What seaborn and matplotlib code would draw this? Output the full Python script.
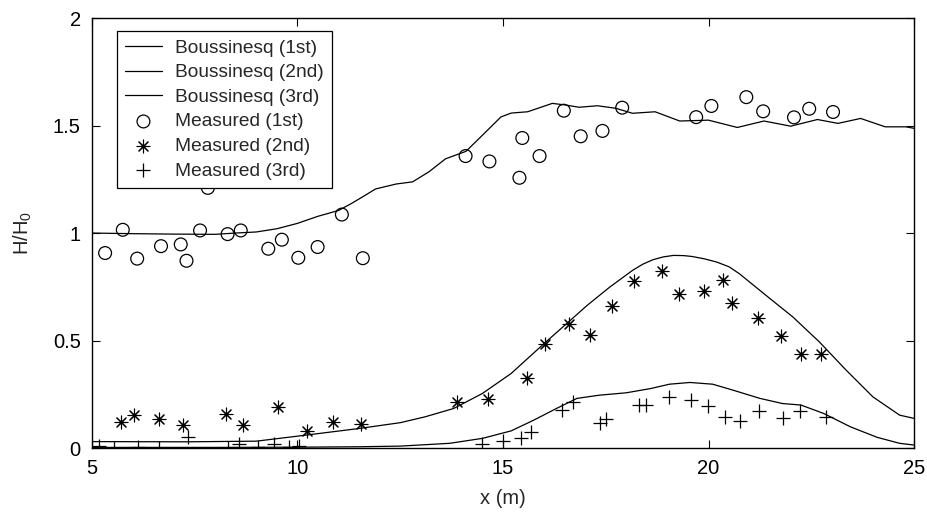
"""
Wave height along the channel: Boussinesq model vs. measurements.
"""
import matplotlib
matplotlib.use("Agg")
import matplotlib.pyplot as plt
import seaborn as sns
from matplotlib.ticker import FuncFormatter

# Boussinesq model, harmonic amplitudes
bous1_x = [5, 6, 7, 8, 8.5, 9, 9.5, 10, 10.5, 11, 11.3, 11.6, 11.9, 12.4, 12.8,
           13.2, 13.6, 14.1, 14.5, 14.95, 15.2, 15.6, 16.2, 16.5, 16.85, 17.3,
           17.75, 18.15, 18.7, 19.3, 20.0, 20.7, 21.35, 22.0, 22.65, 23.15,
           23.7, 24.3, 24.8, 25]
bous1_y = [1.0, 0.997, 0.995, 0.994, 1.0, 1.005, 1.02, 1.045, 1.078, 1.105,
           1.136, 1.17, 1.205, 1.228, 1.238, 1.285, 1.345, 1.38, 1.455, 1.54,
           1.558, 1.564, 1.603, 1.596, 1.585, 1.592, 1.58, 1.557, 1.564, 1.521,
           1.525, 1.491, 1.521, 1.497, 1.528, 1.51, 1.533, 1.494, 1.494, 1.487]

bous2_x = [5, 7.3, 9.0, 10.2, 11.5, 12.5, 13.1, 13.8, 14.5, 15.2, 16.0, 16.55,
           17.05, 17.6, 18.15, 18.4, 18.65, 18.9, 19.15, 19.4, 19.6, 19.9, 20.2,
           20.5, 20.75, 21.4, 22.05, 22.7, 23.35, 24.0, 24.65, 25.0]
bous2_y = [0.03, 0.029, 0.032, 0.06, 0.091, 0.118, 0.145, 0.184, 0.254, 0.347,
           0.486, 0.579, 0.664, 0.749, 0.826, 0.855, 0.876, 0.889, 0.896, 0.895,
           0.891, 0.88, 0.865, 0.843, 0.811, 0.710, 0.610, 0.493, 0.362, 0.238,
           0.153, 0.138]

bous3_x = [5, 8, 10, 11.5, 12.5, 13.7, 14.5, 15.2, 15.75, 16.3, 16.8, 17.35,
           18.0, 18.6, 19.05, 19.55, 20.1, 20.6, 21.25, 21.8, 22.25, 22.8,
           23.45, 24.1, 24.65, 25.0]
bous3_y = [0.003, 0.003, 0.004, 0.006, 0.009, 0.022, 0.045, 0.08, 0.13, 0.184,
           0.231, 0.246, 0.257, 0.277, 0.297, 0.305, 0.297, 0.269, 0.231, 0.207,
           0.2, 0.161, 0.099, 0.05, 0.022, 0.014]

# measurements
meas1_x = [5.32, 5.75, 6.10, 6.68, 7.16, 7.30, 7.63, 7.82, 8.30, 8.62, 9.29,
           9.62, 10.02, 10.49, 11.08, 11.59, 14.09, 14.67, 15.40, 15.47, 15.89,
           16.48, 16.89, 17.42, 17.90, 19.70, 20.07, 20.92, 21.33, 22.08,
           22.45, 23.03]
meas1_y = [0.907, 1.015, 0.881, 0.939, 0.947, 0.871, 1.012, 1.21, 0.995, 1.012,
           0.927, 0.969, 0.885, 0.935, 1.086, 0.883, 1.358, 1.333, 1.257, 1.442,
           1.358, 1.569, 1.450, 1.475, 1.583, 1.539, 1.591, 1.632, 1.566, 1.538,
           1.578, 1.563]

meas2_x = [5.70, 6.02, 6.64, 7.22, 8.26, 8.67, 9.52, 10.24, 10.87, 11.55,
           13.87, 14.64, 15.59, 16.02, 16.61, 17.12, 17.65, 18.18, 18.87, 19.27,
           19.89, 20.36, 20.58, 21.20, 21.76, 22.24, 22.73]
meas2_y = [0.119, 0.153, 0.133, 0.108, 0.158, 0.107, 0.189, 0.080, 0.122, 0.111,
           0.212, 0.226, 0.326, 0.486, 0.577, 0.525, 0.659, 0.777, 0.825, 0.716,
           0.732, 0.781, 0.673, 0.607, 0.520, 0.436, 0.436]

meas3_x = [5.16, 5.53, 6.11, 6.62, 7.33, 8.30, 8.57, 9.03, 9.44, 9.79, 10.04,
           14.48, 15.01, 15.43, 15.68, 16.43, 16.71, 17.36, 17.50, 18.31, 18.47,
           19.05, 19.57, 19.98, 20.39, 20.77, 21.23, 21.81, 22.23, 22.85]
meas3_y = [0.011, 0.0, 0.006, 0.001, 0.050, 0.001, 0.017, 0.006, 0.017, 0.006,
           0.011, 0.017, 0.035, 0.048, 0.074, 0.175, 0.215, 0.115, 0.133, 0.200,
           0.200, 0.238, 0.223, 0.196, 0.145, 0.127, 0.170, 0.141, 0.172, 0.143]


def plot():
    sns.set_style("ticks")
    plt.rcParams['font.family'] = ['Liberation Sans', 'DejaVu Sans']
    plt.rcParams['mathtext.default'] = 'regular'
    plt.rcParams['font.size'] = 14

    fig = plt.figure(figsize=(9.27, 5.15), dpi=100)
    ax = fig.add_axes([0.0992, 0.130, 0.8868, 0.835])

    lw = 0.9
    sns.lineplot(x=bous1_x, y=bous1_y, color='k', lw=lw, label='Boussinesq (1st)', ax=ax)
    sns.lineplot(x=bous2_x, y=bous2_y, color='k', lw=lw, label='Boussinesq (2nd)', ax=ax)
    sns.lineplot(x=bous3_x, y=bous3_y, color='k', lw=lw, label='Boussinesq (3rd)', ax=ax)

    sns.scatterplot(x=meas1_x, y=meas1_y, marker='o', s=85, facecolor='none',
                    edgecolor='k', linewidth=0.9, label='Measured (1st)', ax=ax)
    sns.scatterplot(x=meas2_x, y=meas2_y, marker=(8, 2, 0), s=85, color='k',
                    linewidth=0.8, label='Measured (2nd)', ax=ax)
    sns.scatterplot(x=meas3_x, y=meas3_y, marker='+', s=100, color='k',
                    linewidth=0.9, label='Measured (3rd)', ax=ax)

    ax.set_xlim(5, 25)
    ax.set_ylim(0, 2)
    ax.set_xticks([5, 10, 15, 20, 25])
    ax.set_yticks([0, 0.5, 1, 1.5, 2])
    ax.yaxis.set_major_formatter(FuncFormatter(lambda v, p: f'{v:g}'))
    ax.tick_params(direction='in', length=6, width=0.8, top=True, right=True,
                   labelsize=14.5, pad=8, colors='k')
    for sp in ax.spines.values():
        sp.set_color('k')
        sp.set_linewidth(1.0)

    ax.set_xlabel('x (m)', fontsize=14.5, labelpad=8)
    ax.set_ylabel('H/H$_0$', fontsize=14.5, labelpad=14)

    leg = ax.legend(loc='upper left', bbox_to_anchor=(0.030, 0.970), borderaxespad=0,
                    fontsize=13.8, handlelength=1.9, handletextpad=0.7,
                    labelspacing=0.37, borderpad=0.45, fancybox=False,
                    framealpha=1, edgecolor='k')
    leg.get_frame().set_linewidth(0.9)

    fig.savefig('out.png', dpi=100)


if __name__ == "__main__":
    plot()
